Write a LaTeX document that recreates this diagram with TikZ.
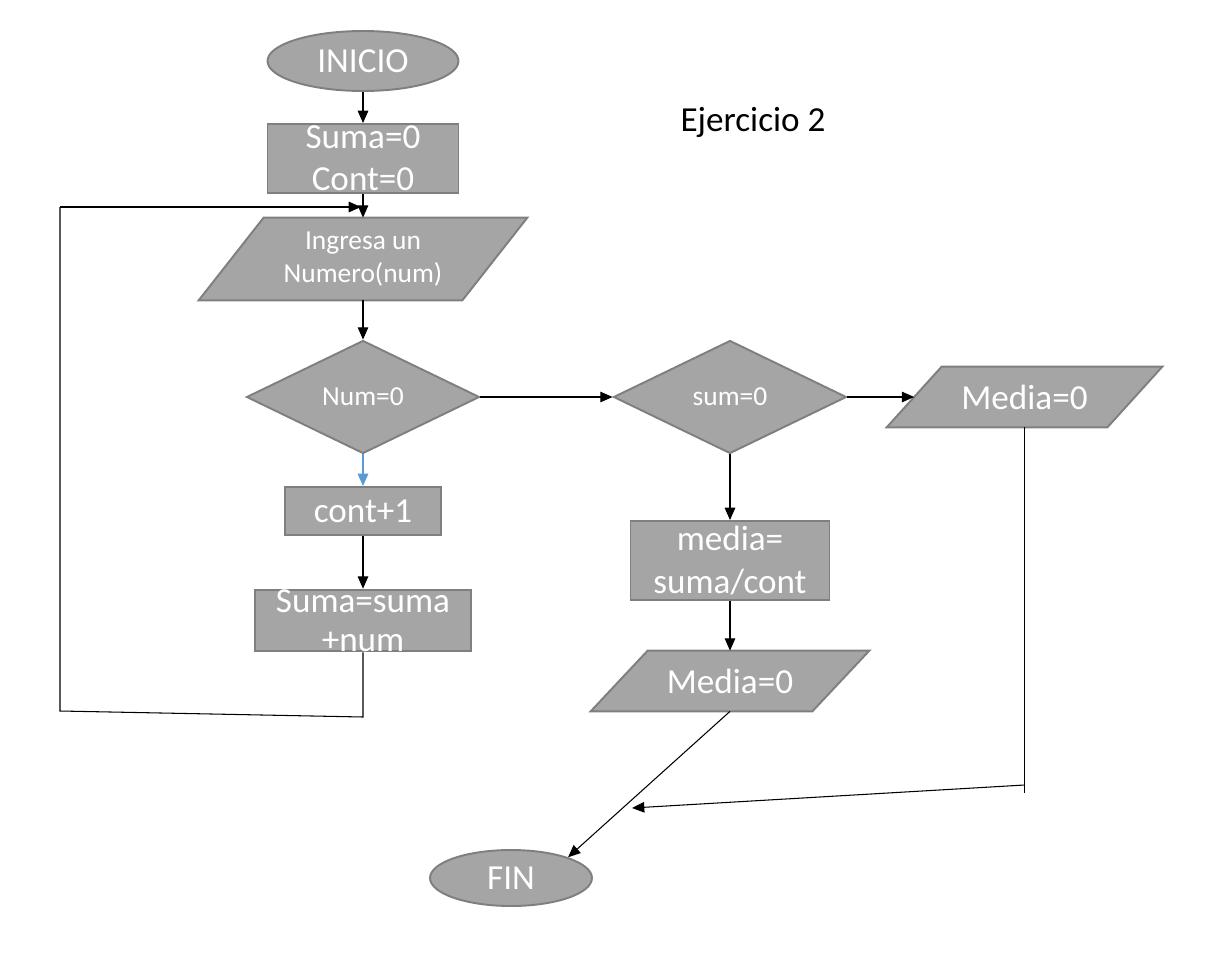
\documentclass[tikz,border=0pt]{standalone}
\usepackage{fontspec}
\setmainfont{Carlito}
\usetikzlibrary{shapes.geometric,arrows.meta,backgrounds}
\definecolor{boxfill}{HTML}{A5A5A5}
\definecolor{boxedge}{HTML}{7F7F7F}
\definecolor{flowblue}{HTML}{5B9BD5}
\tikzstyle{bloque}=[draw=boxedge,fill=boxfill,line width=1.1pt,text=white,inner sep=1pt,align=center]
\tikzstyle{grande}=[font=\fontsize{20}{24}\selectfont]
\tikzstyle{chica}=[font=\fontsize{15.6}{19}\selectfont]
\tikzstyle{terminal}=[bloque,grande,ellipse]
\tikzstyle{proceso}=[bloque,grande,rectangle]
\tikzstyle{decision}=[bloque,chica,diamond,aspect=2.06,minimum width=4.66cm,minimum height=2.26cm]
\tikzstyle{textoentrada}=[text=white,inner sep=1pt,align=center,rectangle]
\tikzstyle{flecha}=[line width=0.6pt,-{Triangle[length=7pt,width=6pt]}]
\tikzstyle{linea}=[line width=0.6pt]
% paralelogramo de entrada/salida: estilo, nombre, x, y, lado, alto, inclinacion (px)
\newcommand{\entrada}[8]{
\node[textoentrada,#1,minimum width=#5*0.02cm,minimum height=#6*0.02cm] (#2) at (#3,#4) {#8};
\begin{scope}[on background layer]
\draw[bloque] ([xshift=#7*0.01cm]#2.north west) -- ([xshift=#7*0.01cm]#2.north east)
  -- ([xshift=-#7*0.01cm]#2.south east) -- ([xshift=-#7*0.01cm]#2.south west) -- cycle;
\end{scope}
}
\begin{document}
\begin{tikzpicture}[x=0.02cm,y=-0.02cm]
\useasboundingbox (0,0) rectangle (1221,957);

% columna izquierda
\node[terminal,minimum width=3.82cm,minimum height=1.2cm] (inicio) at (363,61) {INICIO};
\node[proceso,minimum width=3.82cm,minimum height=1.38cm] (init) at (363,158.5) {Suma=0\\Cont=0};
\entrada{chica}{leer}{363}{259}{263}{82}{65}{Ingresa un\\Numero(num)}
\node[decision] (num) at (363,397) {Num=0};
\node[proceso,minimum width=3.12cm,minimum height=0.96cm] (cont) at (363,511) {cont+1};
\node[proceso,font=\fontsize{20}{22}\selectfont,inner ysep=0pt,minimum width=4.32cm,minimum height=1.22cm] (suma) at (363,620.5) {Suma=suma\\+num};

% columna derecha
\node[decision] (sum) at (730,397) {sum=0};
\entrada{grande}{salida1}{1024.5}{397}{220}{60}{55}{Media=0}
\node[proceso,minimum width=3.98cm,minimum height=1.58cm] (media) at (730,560.5) {media=\\suma/cont};
\entrada{grande}{salida2}{730}{681}{221}{60}{57}{Media=0}
\node[terminal,minimum width=3.24cm,minimum height=1.12cm] (fin) at (511,878) {FIN};

\node[grande] (titulo) at (753,122) {Ejercicio 2};

% puntos del lazo y del retorno
\coordinate (lazoA) at (363,717);
\coordinate (lazoB) at (60,711);
\coordinate (lazoC) at (60,207);
\coordinate (lazoD) at (361,207);
\coordinate (retA) at (1024.5,793);
\coordinate (retB) at (1024.5,785);
\coordinate (retC) at (632,808);

\draw[flecha] (inicio) -- (init);
\draw[flecha] (init) -- (leer);
\draw[flecha] (leer) -- (num);
\draw[flecha,draw=flowblue,fill=flowblue] (num) -- (cont);
\draw[flecha] (cont) -- (suma);
\draw[linea] (suma.south) -- (lazoA) -- (lazoB) -- (lazoC);
\draw[flecha] (lazoC) -- (lazoD);
\draw[flecha] (num.east) -- (sum.west);
\draw[flecha] (sum.east) -- (salida1.west);
\draw[flecha] (sum) -- (media);
\draw[flecha] (media) -- (salida2);
\draw[flecha] (salida2.south) -- (fin.20);
\draw[linea] (salida1.south) -- (retA);
\draw[flecha] (retB) -- (retC);
\end{tikzpicture}
\end{document}
